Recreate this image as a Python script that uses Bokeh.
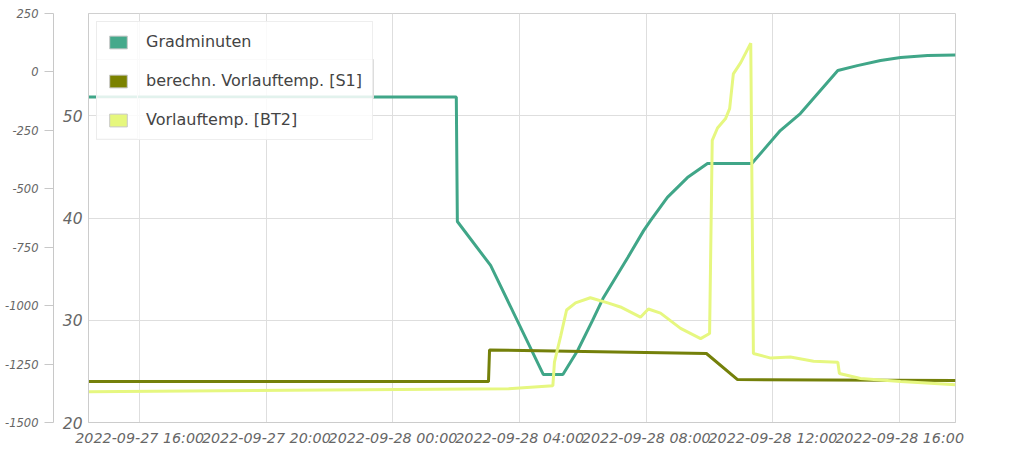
import pandas as pd
from bokeh.plotting import figure
from bokeh.models import (Range1d, LinearAxis, FixedTicker, DatetimeTickFormatter,
                          NumeralTickFormatter, Legend, LegendItem, ColumnDataSource,
                          BoxAnnotation)
from bokeh.embed import file_html
from bokeh.resources import INLINE

# ---------------- data ----------------
grad_times = ["2022-09-27 14:23", "2022-09-28 02:00", "2022-09-28 02:02", "2022-09-28 03:05",
              "2022-09-28 04:45", "2022-09-28 05:22", "2022-09-28 05:50", "2022-09-28 06:18",
              "2022-09-28 06:39", "2022-09-28 07:25", "2022-09-28 07:55", "2022-09-28 08:08",
              "2022-09-28 08:40", "2022-09-28 09:18", "2022-09-28 09:56", "2022-09-28 11:20",
              "2022-09-28 12:14", "2022-09-28 12:52", "2022-09-28 14:03", "2022-09-28 14:40",
              "2022-09-28 15:24", "2022-09-28 16:02", "2022-09-28 16:53", "2022-09-28 17:46"]
grad_vals = [-107, -107, -640, -828, -1295, -1295, -1192, -1064, -965, -794, -679, -636,
             -537, -452, -392, -392, -251, -178, 6, 27, 49, 62, 70, 72]

s1_times = ["2022-09-27 14:23", "2022-09-28 03:01", "2022-09-28 03:03", "2022-09-28 09:54",
            "2022-09-28 10:53", "2022-09-28 17:46"]
s1_vals = [24.0, 24.0, 27.1, 26.75, 24.2, 24.1]

bt2_times = ["2022-09-27 14:23", "2022-09-28 03:39", "2022-09-28 05:03", "2022-09-28 05:06",
             "2022-09-28 05:18", "2022-09-28 05:29", "2022-09-28 05:46", "2022-09-28 06:14",
             "2022-09-28 06:47", "2022-09-28 07:11", "2022-09-28 07:49", "2022-09-28 08:04",
             "2022-09-28 08:27", "2022-09-28 09:05", "2022-09-28 09:43", "2022-09-28 10:00",
             "2022-09-28 10:05", "2022-09-28 10:15", "2022-09-28 10:30", "2022-09-28 10:38",
             "2022-09-28 10:45", "2022-09-28 10:59", "2022-09-28 11:18", "2022-09-28 11:23",
             "2022-09-28 11:56", "2022-09-28 12:33", "2022-09-28 13:17", "2022-09-28 14:03",
             "2022-09-28 14:06", "2022-09-28 14:46", "2022-09-28 16:02", "2022-09-28 17:46"]
bt2_vals = [23.0, 23.3, 23.6, 25.9, 28.5, 31.0, 31.7, 32.2, 31.7, 31.3, 30.3, 31.1,
            30.7, 29.2, 28.2, 28.7, 47.6, 48.8, 49.7, 50.7, 54.1, 55.2, 57.1, 26.75,
            26.3, 26.4, 26.0, 25.9, 24.8, 24.3, 24.0, 23.7]

x_ticks = ["2022-09-27 16:00", "2022-09-27 20:00", "2022-09-28 00:00", "2022-09-28 04:00",
           "2022-09-28 08:00", "2022-09-28 12:00", "2022-09-28 16:00"]
temp_ticks = [20, 30, 40, 50]
temp_range = (20, 60)
grad_ticks = [-1500, -1250, -1000, -750, -500, -250, 0, 250]
grad_range = (-1500, 250)

series_names = ["Gradminuten", "berechn. Vorlauftemp. [S1]", "Vorlauftemp. [BT2]"]
series_colors = ["#40a688", "#74800a", "#e6f780"]
swatch_colors = ["#45a98b", "#7b8200", "#e6f77d"]

# ---------------- figure ----------------
gt = pd.to_datetime(grad_times)
st = pd.to_datetime(s1_times)
bt = pd.to_datetime(bt2_times)
tick_ms = [pd.Timestamp(t).value // 10**6 for t in x_ticks]

p = figure(width=968, height=448, output_backend="svg", toolbar_location=None,
           x_axis_type="datetime",
           x_range=Range1d(gt[0], gt[-1]), y_range=Range1d(*temp_range),
           min_border_left=88, min_border_top=13, min_border_right=13, min_border_bottom=0)
p.extra_y_ranges = {"gm": Range1d(*grad_range)}

p.outline_line_color = "#d0d0d0"
p.background_fill_color = "white"
p.border_fill_color = "white"

# grids
p.xgrid.grid_line_color = "#dedede"
p.ygrid.grid_line_color = "#dedede"

# x axis
xa = p.xaxis[0]
xa.ticker = FixedTicker(ticks=tick_ms)
fmt = "%Y-%m-%d %H:%M"
xa.formatter = DatetimeTickFormatter(minutes=fmt, hourmin=fmt, hours=fmt, days=fmt,
                                     months=fmt, years=fmt, boundary_scaling=False)
xa.major_label_text_font = "DejaVu Sans"
xa.major_label_text_font_style = "italic"
xa.major_label_text_font_size = "14.3px"
xa.major_label_text_color = "#666666"
xa.axis_line_color = "#cccccc"
xa.major_tick_out = 0
xa.major_tick_in = 0
xa.minor_tick_out = 0
xa.minor_tick_in = 0
xa.major_label_standoff = 7

# temperature axis (inner left)
ya = p.yaxis[0]
ya.ticker = FixedTicker(ticks=temp_ticks)
ya.major_label_text_font = "DejaVu Sans"
ya.major_label_text_font_style = "italic"
ya.major_label_text_font_size = "15.5px"
ya.major_label_text_color = "#666666"
ya.axis_line_color = "#cccccc"
ya.major_tick_out = 0
ya.major_tick_in = 0
ya.minor_tick_out = 0
ya.minor_tick_in = 0
ya.major_label_standoff = 6
ya.axis_label = " "
ya.axis_label_text_font_size = "3px"
ya.axis_label_standoff = 0

# Gradminuten axis (outer left)
ga = LinearAxis(y_range_name="gm", ticker=FixedTicker(ticks=grad_ticks),
                formatter=NumeralTickFormatter(format="0"))
ga.major_label_text_font = "DejaVu Sans"
ga.major_label_text_font_style = "italic"
ga.major_label_text_font_size = "11.5px"
ga.major_label_text_color = "#666666"
ga.axis_line_color = "#c8c8c8"
ga.major_tick_line_color = "#c8c8c8"
ga.major_tick_out = 9
ga.major_tick_in = 0
ga.minor_tick_out = 0
ga.minor_tick_in = 0
ga.major_label_standoff = 6
p.add_layout(ga, "left")

# lines
p.line(gt, grad_vals, y_range_name="gm", line_color=series_colors[0], line_width=3)
p.line(st, s1_vals, line_color=series_colors[1], line_width=3)
p.line(bt, bt2_vals, line_color=series_colors[2], line_width=3)

# legend swatches: hidden quads (used only to draw the legend squares)
series_t = [gt, st, bt]
series_v = [grad_vals, s1_vals, bt2_vals]
items = []
for name, col, tt, vv in zip(series_names, swatch_colors, series_t, series_v):
    src = ColumnDataSource(dict(l=list(tt[:1]), r=list(tt[:1]), t=list(vv[:1]), b=list(vv[:1])))
    r = p.quad(left="l", right="r", top="t", bottom="b", source=src,
               fill_color=col, line_color="#c8c8c8", line_width=1)
    r.visible = False
    items.append(LegendItem(label=name, renderers=[r]))

legend = Legend(items=items, location="top_left", margin=8,
                glyph_width=22, glyph_height=16, label_height=18,
                spacing=20, padding=10, label_standoff=17,
                label_text_font="DejaVu Sans", label_text_font_size="16px",
                label_text_color="#444444",
                background_fill_color="white", background_fill_alpha=0.85,
                border_line_color="#dddddd", border_line_width=1)
p.add_layout(legend)

# legend table separators: outlined boxes in screen pixels (from the frame's bottom-left)
for (l, r_, t, b) in [(8, 285, 363, 324), (8, 49, 401, 284)]:
    p.add_layout(BoxAnnotation(left=l, right=r_, top=t, bottom=b,
                               left_units="screen", right_units="screen",
                               top_units="screen", bottom_units="screen",
                               fill_color=None, fill_alpha=0,
                               line_color="#dddddd", line_width=1, line_alpha=1,
                               level="overlay"))

open("out.html", "w").write(file_html(p, INLINE))
